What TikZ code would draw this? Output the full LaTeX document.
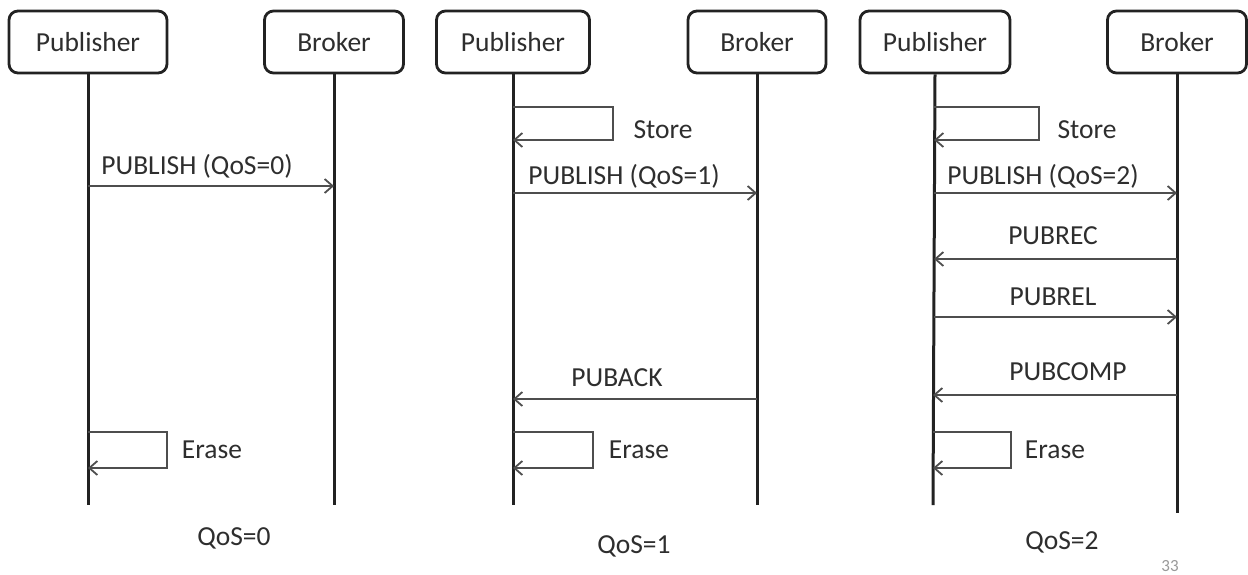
\documentclass[tikz,border=0pt]{standalone}
\usepackage{fontspec}
\setmainfont{Carlito}
\usetikzlibrary{arrows.meta}
\definecolor{ink}{HTML}{222222}
\definecolor{txt}{HTML}{2E2E2E}
\begin{document}
\begin{tikzpicture}[x=1pt,y=-1pt,
 actor/.style={draw=ink, line width=2.8pt, rounded corners=9pt, minimum height=62pt, inner sep=0pt, font=\fontsize{27.5}{32}\selectfont, text=txt},
 life/.style={draw=ink, line width=3pt},
 msg/.style={draw=ink!80, line width=1.8pt, -{Straight Barb[length=8pt,width=14pt,line width=1.8pt]}},
 lbl/.style={font=\fontsize{27.5}{32}\selectfont, text=txt, inner sep=0pt},
]
\useasboundingbox[fill=white] (0,0) rectangle (1248,574);

% ---------- Panel 1 ----------
\node[actor, minimum width=158pt] (pub1) at (88,42) {Publisher};
\node[actor, minimum width=139pt] (bro1) at (334,42) {Broker};
\coordinate (pub1end) at (88,505);
\coordinate (bro1end) at (334,505);
\draw[life] (pub1.south) -- (pub1end);
\draw[life] (bro1.south) -- (bro1end);

\coordinate (m1s) at (88,186);
\coordinate (m1e) at (334,186);
\draw[msg] (m1s) -- (m1e);
\node[lbl] (l1) at (197,166) {PUBLISH (QoS=0)};

\coordinate (e1a) at (88,432);
\coordinate (e1b) at (167,432);
\coordinate (e1c) at (167,468);
\coordinate (e1d) at (88,468);
\draw[msg] (e1a) -- (e1b) -- (e1c) -- (e1d);
\node[lbl] (e1l) at (212,450) {Erase};

\node[lbl] (q0) at (234,538) {QoS=0};

% ---------- Panel 2 ----------
\node[actor, minimum width=153pt] (pub2) at (513,42) {Publisher};
\node[actor, minimum width=138pt] (bro2) at (757,42) {Broker};
\coordinate (pub2end) at (513,505);
\coordinate (bro2end) at (757,505);
\draw[life] (pub2.south) -- (pub2end);
\draw[life] (bro2.south) -- (bro2end);

\coordinate (s2a) at (513,107);
\coordinate (s2b) at (613,107);
\coordinate (s2c) at (613,140);
\coordinate (s2d) at (513,140);
\draw[msg] (s2a) -- (s2b) -- (s2c) -- (s2d);
\node[lbl] (s2l) at (663,130) {Store};

\coordinate (m2s) at (513,193);
\coordinate (m2e) at (757,193);
\draw[msg] (m2s) -- (m2e);
\node[lbl] (l2) at (624,176) {PUBLISH (QoS=1)};

\coordinate (a2s) at (757,399);
\coordinate (a2e) at (513,399);
\draw[msg] (a2s) -- (a2e);
\node[lbl] (l2b) at (617,378) {PUBACK};

\coordinate (e2a) at (513,432);
\coordinate (e2b) at (593,432);
\coordinate (e2c) at (593,468);
\coordinate (e2d) at (513,468);
\draw[msg] (e2a) -- (e2b) -- (e2c) -- (e2d);
\node[lbl] (e2l) at (639,450) {Erase};

\node[lbl] (q1) at (634,546) {QoS=1};

% ---------- Panel 3 ----------
\node[actor, minimum width=150pt] (pub3) at (935,42) {Publisher};
\node[actor, minimum width=139pt] (bro3) at (1177,42) {Broker};
\coordinate (pub3end) at (933,505);
\coordinate (bro3end) at (1177,513);
\draw[life] (pub3.south) -- (pub3end);
\draw[life] (bro3.south) -- (bro3end);

\coordinate (s3a) at (934,107);
\coordinate (s3b) at (1039,107);
\coordinate (s3c) at (1039,140);
\coordinate (s3d) at (934,140);
\draw[msg] (s3a) -- (s3b) -- (s3c) -- (s3d);
\node[lbl] (s3l) at (1087,130) {Store};

\coordinate (m3s) at (934,193);
\coordinate (m3e) at (1177,193);
\draw[msg] (m3s) -- (m3e);
\node[lbl] (l3) at (1043,176) {PUBLISH (QoS=2)};

\coordinate (r3s) at (1177,259);
\coordinate (r3e) at (934,259);
\draw[msg] (r3s) -- (r3e);
\node[lbl] (l3b) at (1053,236) {PUBREC};

\coordinate (rl3s) at (934,317);
\coordinate (rl3e) at (1177,317);
\draw[msg] (rl3s) -- (rl3e);
\node[lbl] (l3c) at (1053,297) {PUBREL};

\coordinate (c3s) at (1177,395);
\coordinate (c3e) at (933,395);
\draw[msg] (c3s) -- (c3e);
\node[lbl] (l3d) at (1068,372) {PUBCOMP};

\coordinate (e3a) at (933,432);
\coordinate (e3b) at (1011,432);
\coordinate (e3c) at (1011,468);
\coordinate (e3d) at (933,468);
\draw[msg] (e3a) -- (e3b) -- (e3c) -- (e3d);
\node[lbl] (e3l) at (1055,450) {Erase};

\node[lbl] (q2) at (1062,542) {QoS=2};

\node[font=\fontsize{17}{19}\selectfont, text=black!40, inner sep=0pt] (pg) at (1170,566) {33};
\end{tikzpicture}
\end{document}
